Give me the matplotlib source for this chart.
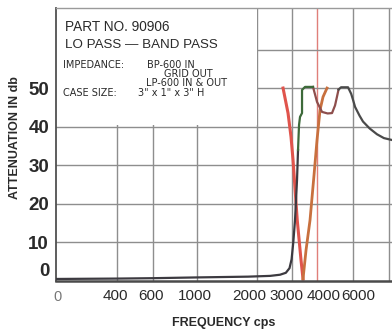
import matplotlib
matplotlib.use('Agg')
import matplotlib.pyplot as plt
from matplotlib.ticker import NullLocator

NARROW = ['Liberation Sans', 'DejaVu Sans']

# axis ticks
freq_ticks = [400, 600, 1000, 2000, 3000, 4000, 6000]
freq_tick_labels = ['400', '600', '1000', '2000', '3000', '4000', '6000']
label_shift_px = [-2, -2, -2, -8, -6, 6, 6]
extra_freq_grid = [9120]
db_ticks = [0, 10, 20, 30, 40, 50]
db_grid = [10, 20, 30, 40, 50, 60]

# lo pass curve (dark, then green top)
lp_freq = [197, 400, 600, 1000, 1800, 2320, 2600, 2780, 2900, 2970, 3030, 3090, 3162, 3199]
lp_db = [0.4, 0.5, 0.6, 0.8, 1.0, 1.2, 1.5, 2.0, 3.2, 5.5, 10.0, 15.7, 26.1, 33.9]
lp_top_freq = [3199, 3236, 3273, 3350, 3350, 3467, 3802]
lp_top_db = [33.9, 40.4, 42.5, 43.5, 49.5, 50.3, 50.3]

# band pass V (red left arm, orange right arm)
bp_left_freq = [2692, 2851, 2951, 3020, 3170, 3311, 3388]
bp_left_db = [50.0, 43.5, 37.3, 31.3, 15.7, 5.3, 0.4]
bp_right_freq = [3388, 3508, 3673, 3846, 3981, 4121, 4266, 4467]
bp_right_db = [0.4, 7.9, 15.7, 27.4, 36.5, 44.3, 47.7, 50.0]

# maroon bump and dark roll-off above 5 kc
bump_freq = [3802, 3981, 4217, 4500, 4732, 4900, 5012, 5100]
bump_db = [50.3, 46.4, 43.8, 43.4, 43.5, 45.5, 47.8, 49.6]
hi_freq = [5100, 5250, 5690, 5900, 6030, 6170, 6500, 6760, 7300, 7940, 8600, 9441]
hi_db = [49.6, 50.2, 50.2, 48.5, 46.9, 45.1, 42.8, 41.3, 39.5, 38.0, 37.0, 36.5]

W, H = 392, 334
fig = plt.figure(figsize=(W / 100, H / 100), dpi=100)
ax = fig.add_axes([56 / W, 53.5 / H, 336 / W, 272.5 / H])
ax.set_xscale('log')
ax.set_xlim(197, 9441)
ax.set_ylim(0, 70.8)
ax.xaxis.set_minor_locator(NullLocator())

for f in freq_ticks + extra_freq_grid:
    c = '#e07f7a' if f == 4000 else '#8e8e8e'
    ax.axvline(f, color=c, lw=1.0, zorder=0.5)
for d in db_grid:
    ax.axhline(d, color='#8e8e8e', lw=1.0, zorder=0.5)

# white label box over the upper left grid
ax.fill_between([197, 1985], 40.35, 71, color='white', lw=0, zorder=1)

ax.plot(lp_freq, lp_db, color='#3c3a40', lw=1.6, zorder=3)
ax.plot(lp_top_freq, lp_top_db, color='#3d6a3a', lw=1.6, zorder=3)
ax.plot(bp_left_freq, bp_left_db, color='#e0544c', lw=2.2, zorder=2.5)
ax.plot(bp_right_freq, bp_right_db, color='#c8703e', lw=2.0, zorder=2.5)
ax.plot(bump_freq, bump_db, color='#8e4e4c', lw=1.6, zorder=2.6)
ax.plot(hi_freq, hi_db, color='#4a4a4a', lw=1.6, zorder=2.6)

# x labels placed under their gridlines, nudged like the hand lettering
ax.set_xticks(freq_ticks, [''] * len(freq_ticks))
for f, s, dx in zip(freq_ticks, freq_tick_labels, label_shift_px):
    ax.annotate(s, xy=(f, 0), xycoords=('data', 'axes fraction'),
                xytext=(dx * 0.72, -11.5), textcoords='offset points',
                ha='center', va='center', fontsize=11, family=NARROW,
                color='#2a2a2a')

ax.set_yticks(db_ticks, [''] + [str(d) for d in db_ticks[1:]])
ax.tick_params(axis='both', length=0)
ax.tick_params(axis='y', pad=5, labelsize=13.5, labelcolor='#2a2a2a')
for lab in ax.get_yticklabels():
    lab.set_family(NARROW)
    lab.set_weight('bold')

ax.spines['right'].set_visible(False)
ax.spines['top'].set_color('#9a9a9a')
ax.spines['top'].set_linewidth(1.0)
ax.spines['left'].set_color('#505050')
ax.spines['left'].set_linewidth(1.3)
ax.spines['bottom'].set_color('#4a4a4a')
ax.spines['bottom'].set_linewidth(1.8)


def put(x, y, s, color='#2a2a2a', **kw):
    fig.text(x / W, 1 - y / H, s, va='center', color=color, **kw)


put(44, 272, '0', ha='center', fontsize=13.5, family=NARROW, weight='bold')
put(57, 297, '0', ha='center', fontsize=10.5, family=NARROW, color='#777777')

put(65, 27, 'PART NO. 90906', fontsize=9.8, family=NARROW)
put(65, 45, 'LO PASS \u2014 BAND PASS', fontsize=9.6, family=NARROW)
small = dict(fontsize=7, family='DejaVu Sans')
put(63, 65, 'IMPEDANCE:', **small)
put(147, 65, 'BP-600 IN', **small)
put(164, 74, 'GRID OUT', **small)
put(146, 83, 'LP-600 IN & OUT', **small)
put(63, 93, 'CASE SIZE:', **small)
put(138, 93, '3" x 1" x 3" H', **small)

put(15, 138, 'ATTENUATION IN db', ha='center', rotation=90, fontsize=9,
    family=NARROW, weight='bold')
put(224, 323, 'FREQUENCY cps', ha='center', fontsize=9, family=NARROW,
    weight='bold')

fig.savefig('out.png', dpi=100)
